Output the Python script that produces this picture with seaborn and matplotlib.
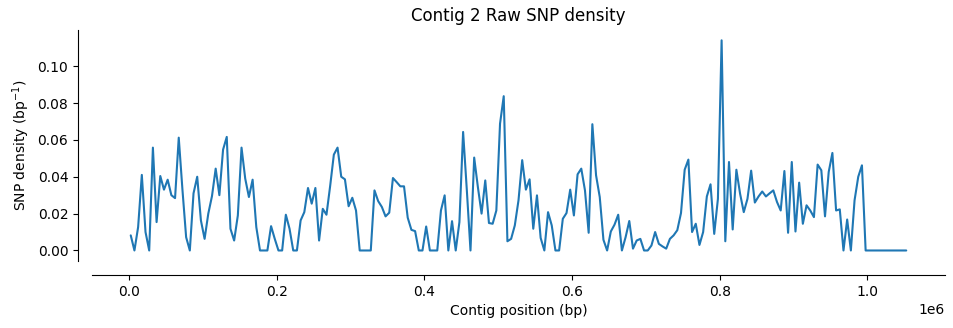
import numpy as np
import pandas as pd
import matplotlib
matplotlib.use("Agg")
import matplotlib.pyplot as plt
import seaborn as sns

# Window settings (5 kb windows, plotted at window centres)
window_size = 5000

# SNP density per window (bp^-1)
density = [
    0.0082, 0.0, 0.0127, 0.041, 0.010, 0.0, 0.0558, 0.0154, 0.0404, 0.033,
    0.0384, 0.030, 0.0284, 0.0612, 0.033, 0.0072, 0.0, 0.031, 0.040, 0.0163,
    0.0063, 0.020, 0.0295, 0.0444, 0.030, 0.0547, 0.0616, 0.0118, 0.0054, 0.019,
    0.0558, 0.039, 0.029, 0.0384, 0.0127, 0.0, 0.0, 0.0, 0.0132, 0.0063,
    0.0, 0.0, 0.0194, 0.0118, 0.0, 0.0, 0.0163, 0.0208, 0.0339, 0.0254,
    0.0339, 0.0054, 0.0226, 0.0194, 0.035, 0.052, 0.0558, 0.040, 0.0386, 0.024,
    0.0286, 0.0217, 0.0, 0.0, 0.0, 0.0, 0.0326, 0.0268, 0.0236, 0.0185,
    0.0205, 0.0393, 0.0371, 0.0348, 0.0348, 0.0178, 0.0112, 0.0105, 0.0, 0.0,
    0.013, 0.0, 0.0, 0.0, 0.0217, 0.0299, 0.0, 0.0159, 0.0, 0.0154,
    0.0643, 0.033, 0.0, 0.0504, 0.0344, 0.020, 0.038, 0.0149, 0.0145, 0.0217,
    0.0688, 0.0837, 0.005, 0.0063, 0.0136, 0.0272, 0.049, 0.033, 0.0386, 0.0118,
    0.0299, 0.0068, 0.0, 0.0208, 0.0136, 0.0, 0.0, 0.0172, 0.0203, 0.033,
    0.019, 0.0413, 0.0444, 0.0326, 0.0096, 0.0685, 0.0408, 0.029, 0.0058, 0.0,
    0.0103, 0.014, 0.0194, 0.0, 0.0072, 0.016, 0.001, 0.0054, 0.0063, 0.0,
    0.0, 0.0027, 0.010, 0.0036, 0.0022, 0.001, 0.0063, 0.0082, 0.011, 0.0203,
    0.0438, 0.0493, 0.010, 0.0145, 0.003, 0.010, 0.0293, 0.0359, 0.009, 0.028,
    0.114, 0.005, 0.048, 0.0114, 0.0438, 0.0308, 0.0208, 0.028, 0.0433, 0.026,
    0.0293, 0.032, 0.0293, 0.031, 0.0326, 0.0263, 0.0217, 0.0431, 0.0096, 0.048,
    0.0103, 0.0368, 0.0145, 0.0245, 0.0217, 0.0181, 0.0466, 0.0435, 0.0185, 0.0426,
    0.0529, 0.0217, 0.0223, 0.0, 0.0168, 0.0, 0.0272, 0.040, 0.0462, 0.0,
    0.0, 0.0, 0.0, 0.0, 0.0, 0.0, 0.0, 0.0, 0.0, 0.0,
    0.0,
]

position = [window_size // 2 + window_size * i for i in range(len(density))]

df = pd.DataFrame({"position": position, "density": density})

sns.set_style("ticks")
plt.rcParams["font.family"] = ["DejaVu Sans"]
plt.rcParams.update({
    "text.color": "black",
    "axes.labelcolor": "black",
    "axes.edgecolor": "black",
    "xtick.color": "black",
    "ytick.color": "black",
})

fig = plt.figure(figsize=(9.54, 3.28), dpi=100)
ax = fig.add_axes([0.0964, 0.2043, 0.8942, 0.7048])

sns.lineplot(data=df, x="position", y="density", ax=ax, color="#1f77b4", linewidth=1.5)

ax.set_title("Contig 2 Raw SNP density", fontsize=12)
ax.set_xlabel("Contig position (bp)")
ax.set_ylabel("SNP density (bp$^{-1}$)")
sns.despine(ax=ax, offset=10)

fig.savefig("out.png", dpi=100)
